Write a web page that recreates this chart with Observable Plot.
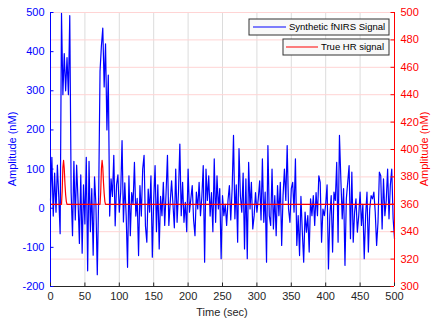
<!DOCTYPE html>
<html><head><meta charset="utf-8">
<script src="https://cdn.jsdelivr.net/npm/d3@7"></script>
<script src="https://cdn.jsdelivr.net/npm/@observablehq/plot@0.6"></script>
<style>body{margin:0;background:#fff}#chart{width:435px;height:322px}</style>
</head><body><div id="chart"></div>
<script>
// Synthetic fNIRS signal (nM), one sample every 2 s from t = 0
const fnirsValues = [
  20,130,-20,90,-10,110,30,-65,498,290,
  395,300,385,290,492,40,-70,120,-30,110,
  20,-90,85,-115,60,-40,130,-160,120,-60,
  50,-120,80,10,-170,30,350,415,460,310,
  420,200,340,-20,75,30,135,-45,60,85,
  -10,40,173,-35,65,-20,-151,83,-70,40,
  10,117,-20,25,-121,58,-20,100,135,-45,
  -87,49,-10,83,-125,20,109,-60,60,-104,
  30,-19,66,-44,40,135,-44,15,70,10,
  -50,100,-36,40,164,-19,66,-36,15,-60,
  100,-10,24,58,-30,-70,41,-2,66,-19,
  30,109,-138,100,20,83,-20,40,-60,126,
  -36,83,-2,50,-129,32,-19,10,-44,20,
  58,-30,49,186,-27,60,-87,152,32,-10,
  90,-104,75,-129,117,-2,66,-53,-19,40,
  -10,24,70,-30,126,-36,41,-138,160,-19,
  -44,100,-53,32,-70,58,-19,66,-95,32,
  100,20,160,-2,-36,50,66,-10,126,-95,
  -19,-121,30,-60,-138,-10,-61,-19,-112,24,
  -19,32,-44,40,-19,83,66,-87,-2,-19,
  10,60,-155,-19,32,-112,41,20,117,-87,
  186,75,-27,50,-146,24,66,109,-78,92,
  -87,-10,24,-61,-19,41,-44,10,-129,-19,
  41,-112,-2,32,24,41,-10,-95,-36,92,
  83,-53,75,-19,20,100,-27,60,100,-27,
  -78
];
const sampleStep = 2;

// True HR signal (right axis units)
const hrTimes  = [0,16,17,18,19,20,21,22,23,24,72,73,74,75,76,77,78,79,80,500];
const hrValues = [360,360,370,387,392,386,375,367,362,360,360,369,386,392,387,376,368,362,360,360];

const xTicks = [0,50,100,150,200,250,300,350,400,450,500];
const leftTicks = [-200,-100,0,100,200,300,400,500];
const rightTicks = [300,320,340,360,380,400,420,440,460,480,500];
const xDomain = [0,500];
const leftDomain = [-200,500];
const rightDomain = [300,500];

const toLeft = r => leftDomain[0] + (r - rightDomain[0]) * (leftDomain[1]-leftDomain[0]) / (rightDomain[1]-rightDomain[0]);

const fnirs = fnirsValues.map((v,i) => ({t: i*sampleStep, v}));
const hr = hrTimes.map((t,i) => ({t, v: toLeft(hrValues[i])}));

const W = 435, H = 322, mL = 50, mR = 41, mT = 12, mB = 36;
const innerW = W - mL - mR, innerH = H - mT - mB;
const tickPx = 3.5;
const tyLen = tickPx * (leftDomain[1]-leftDomain[0]) / innerH;
const txLen = tickPx * (xDomain[1]-xDomain[0]) / innerW;
const font = "'Liberation Sans', Arial, Helvetica, sans-serif";

const chart = Plot.plot({
  width: W, height: H,
  marginLeft: mL, marginRight: mR, marginTop: mT, marginBottom: mB,
  x: {domain: xDomain, axis: null},
  y: {domain: leftDomain, axis: null},
  style: {fontFamily: font, background: "white", overflow: "visible"},
  marks: [
    Plot.ruleX(xTicks.filter(d => d > xDomain[0] && d < xDomain[1]), {stroke: "#dcdcdc", strokeWidth: 1}),
    Plot.ruleY(rightTicks.filter(d => d > rightDomain[0]).map(toLeft), {stroke: "#ffd4d4", strokeWidth: 1}),
    Plot.line(fnirs, {x: "t", y: "v", stroke: "#0000ff", strokeWidth: 1.2}),
    Plot.line(hr, {x: "t", y: "v", stroke: "#ff0000", strokeWidth: 1.2}),
    // axis lines
    Plot.ruleY([leftDomain[0]], {stroke: "#262626", strokeWidth: 1}),
    Plot.ruleX([xDomain[0]], {stroke: "#0000ff", strokeWidth: 1}),
    Plot.ruleX([xDomain[1]], {stroke: "#ff0000", strokeWidth: 1}),
    // ticks (inward)
    Plot.ruleX(xTicks, {x: d => d, y1: leftDomain[0], y2: leftDomain[0] + tyLen, stroke: "#262626"}),
    Plot.ruleY(leftTicks, {y: d => d, x1: xDomain[0], x2: xDomain[0] + txLen, stroke: "#0000ff"}),
    Plot.ruleY(rightTicks, {y: d => toLeft(d), x1: xDomain[1] - txLen, x2: xDomain[1], stroke: "#ff0000"}),
    // tick labels
    Plot.text(leftTicks, {x: xDomain[0], y: d => d, text: d => String(d), textAnchor: "end", dx: -6, fill: "#0000ff", fontSize: 11}),
    Plot.text(rightTicks, {x: xDomain[1], y: d => toLeft(d), text: d => String(d), textAnchor: "start", dx: 6, fill: "#ff0000", fontSize: 11}),
    Plot.text(xTicks, {x: d => d, y: leftDomain[0], text: d => String(d), lineAnchor: "top", dy: 6, fill: "#262626", fontSize: 11})
  ]
});

const svg = d3.select(chart);
svg.append("text").attr("transform", `translate(13,${mT + innerH/2}) rotate(-90)`)
  .attr("text-anchor", "middle").attr("dominant-baseline", "middle")
  .attr("fill", "#0000ff").style("font", `11px ${font}`).text("Amplitude (nM)");
svg.append("text").attr("transform", `translate(425,${mT + innerH/2}) rotate(-90)`)
  .attr("text-anchor", "middle").attr("dominant-baseline", "middle")
  .attr("fill", "#ff0000").style("font", `11px ${font}`).text("Amplitude (nM)");
svg.append("text").attr("x", mL + innerW/2).attr("y", 313)
  .attr("text-anchor", "middle").attr("dominant-baseline", "middle")
  .attr("fill", "#262626").style("font", `11px ${font}`).text("Time (sec)");

// legends (two boxes, as in the reference)
const legends = [
  {label: "Synthetic fNIRS Signal", color: "#0000ff", box: [249, 19, 140, 16], line: [253, 286]},
  {label: "True HR signal", color: "#ff0000", box: [283, 39, 106, 16], line: [286, 318]}
];
for (const L of legends) {
  const [bx, by, bw, bh] = L.box;
  const g = svg.append("g");
  g.append("rect").attr("x", bx).attr("y", by).attr("width", bw).attr("height", bh)
    .attr("fill", "#f8f8f8").attr("stroke", "#333").attr("stroke-width", 1);
  g.append("line").attr("x1", L.line[0]).attr("x2", L.line[1]).attr("y1", by + bh/2).attr("y2", by + bh/2)
    .attr("stroke", L.color).attr("stroke-width", 1);
  g.append("text").attr("x", L.line[1] + 3).attr("y", by + bh/2)
    .attr("text-anchor", "start").attr("dominant-baseline", "middle")
    .attr("fill", "#000").style("font", `9.5px ${font}`).text(L.label);
}

document.getElementById("chart").appendChild(chart);
</script>
</body></html>
